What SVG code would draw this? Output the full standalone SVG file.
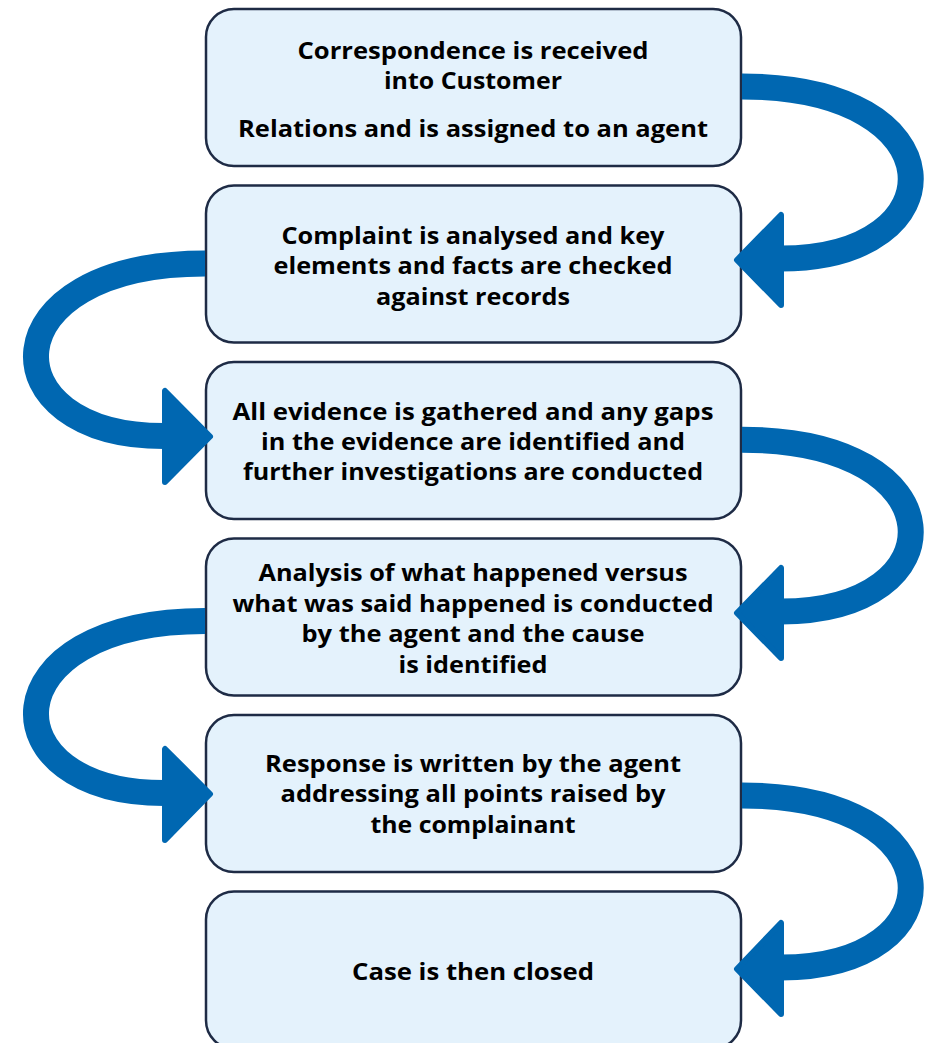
<svg xmlns="http://www.w3.org/2000/svg" width="930" height="1043" viewBox="0 0 930 1043">
<style>
.box{fill:#E4F2FC;stroke:#1E2B45;stroke-width:2.5}
.lbl{font-family:"Open Sans","Liberation Sans",Arial,sans-serif;font-weight:700;font-size:23.5px;fill:#000;text-anchor:middle}
.body{fill:none;stroke:#0067B1;stroke-width:26}
.head{fill:#0067B1;stroke:#0067B1;stroke-width:6;stroke-linejoin:round}
</style>
<rect width="930" height="1043" fill="#FFFFFF"/>
<g id="node1"><rect class="box" x="206" y="9" width="535" height="157" rx="28"/>
<text class="lbl" x="473" y="59" textLength="351" lengthAdjust="spacingAndGlyphs">Correspondence is received</text>
<text class="lbl" x="473" y="89" textLength="178" lengthAdjust="spacingAndGlyphs">into Customer</text>
<text class="lbl" x="473" y="137" textLength="470" lengthAdjust="spacingAndGlyphs">Relations and is assigned to an agent</text></g>
<g id="node2"><rect class="box" x="206" y="185.5" width="535" height="157" rx="28"/>
<text class="lbl" x="473" y="244" textLength="383" lengthAdjust="spacingAndGlyphs">Complaint is analysed and key</text>
<text class="lbl" x="473" y="274" textLength="399" lengthAdjust="spacingAndGlyphs">elements and facts are checked</text>
<text class="lbl" x="473" y="305" textLength="194" lengthAdjust="spacingAndGlyphs">against records</text></g>
<g id="node3"><rect class="box" x="206" y="362" width="535" height="157" rx="28"/>
<text class="lbl" x="473" y="420" textLength="481" lengthAdjust="spacingAndGlyphs">All evidence is gathered and any gaps</text>
<text class="lbl" x="473" y="450" textLength="424" lengthAdjust="spacingAndGlyphs">in the evidence are identified and</text>
<text class="lbl" x="473" y="480" textLength="460" lengthAdjust="spacingAndGlyphs">further investigations are conducted</text></g>
<g id="node4"><rect class="box" x="206" y="538.5" width="535" height="157" rx="28"/>
<text class="lbl" x="473" y="581" textLength="429" lengthAdjust="spacingAndGlyphs">Analysis of what happened versus</text>
<text class="lbl" x="473" y="611.5" textLength="481" lengthAdjust="spacingAndGlyphs">what was said happened is conducted</text>
<text class="lbl" x="473" y="642" textLength="343" lengthAdjust="spacingAndGlyphs">by the agent and the cause</text>
<text class="lbl" x="473" y="672.5" textLength="149" lengthAdjust="spacingAndGlyphs">is identified</text></g>
<g id="node5"><rect class="box" x="206" y="715" width="535" height="157" rx="28"/>
<text class="lbl" x="473" y="772" textLength="416" lengthAdjust="spacingAndGlyphs">Response is written by the agent</text>
<text class="lbl" x="473" y="802" textLength="385" lengthAdjust="spacingAndGlyphs">addressing all points raised by</text>
<text class="lbl" x="473" y="833" textLength="205" lengthAdjust="spacingAndGlyphs">the complainant</text></g>
<g id="node6"><rect class="box" x="206" y="891.5" width="535" height="157" rx="28"/>
<text class="lbl" x="473" y="980" textLength="242" lengthAdjust="spacingAndGlyphs">Case is then closed</text></g>
<g id="connectors">
<path class="body" d="M742,86.5 C960,86.5 960,258.5 781,258.5"/>
<polygon class="head" points="737,260 781,215 781,305"/>
<path class="body" d="M205,263.5 C-13,263.5 -13,436 164,436"/>
<polygon class="head" points="210,436.5 165,391 165,482"/>
<path class="body" d="M742,439.7 C960,439.7 960,611.5 781,611.5"/>
<polygon class="head" points="737,613 781,568 781,658"/>
<path class="body" d="M205,621 C-13,621 -13,793 164,793"/>
<polygon class="head" points="210,794 165,749 165,840"/>
<path class="body" d="M742,795.5 C960,795.5 960,967.5 781,967.5"/>
<polygon class="head" points="737,969 781,923 781,1014"/>
</g>
</svg>
